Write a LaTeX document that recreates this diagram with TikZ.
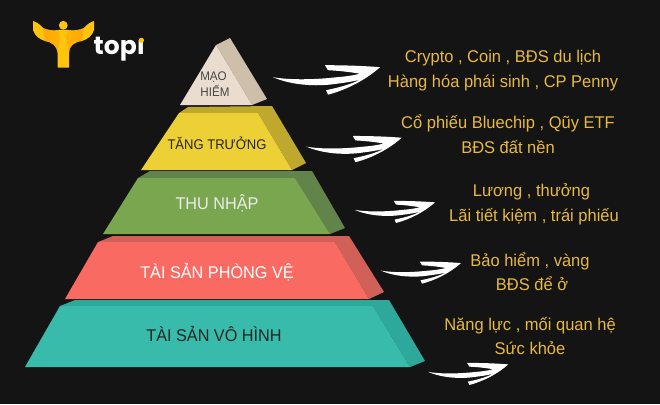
\documentclass[tikz,border=0pt]{standalone}
\usepackage{fontspec}
\setmainfont{Liberation Sans}
\newfontfamily\narrowfont[FakeStretch=0.97]{Liberation Sans}
\newfontfamily\pyrfont[FakeStretch=0.955]{Liberation Sans}
\newfontfamily\pyrnarrow[FakeStretch=0.93]{Liberation Sans}
\newfontfamily\logofont{Poppins}
\definecolor{bgc}{HTML}{141414}
\definecolor{gold}{HTML}{E8B941}
\definecolor{logoy}{RGB}{255,196,14}
\tikzset{
 x=1pt,y=-1pt,
 lab/.style={anchor=base,font=\narrowfont\fontsize{17}{20}\selectfont,text=gold,inner sep=0pt},
 ptext/.style={anchor=base,font=\pyrfont\fontsize{17}{20}\selectfont,inner sep=0pt},
 psmall/.style={anchor=base,font=\pyrnarrow\fontsize{12.5}{15}\selectfont,inner sep=0pt,text=black!72},
}
\newcommand{\brusharrow}[3]{% tip x, tip y, scale
 \fill[white,shift={(#1,#2)},scale=#3]
  (-107,10.5) .. controls (-90,18) and (-65,20.5) .. (-43,17)
  .. controls (-35,16) and (-28,15) .. (-20,13)
  .. controls (-30,18) and (-42,21) .. (-54,23.5)
  -- (-52,28) .. controls (-33,23) and (-14,13) .. (0,0.5)
  .. controls (-18,-1) and (-38,-1.5) .. (-55,-1.5)
  -- (-52,3.5) .. controls (-42,4) and (-32,5) .. (-20,7)
  .. controls (-28,9) and (-36,10) .. (-43,10.5)
  .. controls (-65,13) and (-90,13.5) .. (-107,10.5) -- cycle;
}
\begin{document}
\begin{tikzpicture}
\fill[bgc] (0,0) rectangle (660,404);
\useasboundingbox (0,0) rectangle (660,404);
% logo
\fill[logoy]
 (33,21) .. controls (36,22) and (40,24) .. (43,28)
 .. controls (47,30) and (53,31) .. (58.5,30) -- (68,30)
 .. controls (74,31) and (80,30) .. (84,28)
 .. controls (87,24) and (91,22) .. (94,21)
 -- (94,30) .. controls (92,36) and (88,39) .. (82,41)
 .. controls (74,42) and (69,46) .. (69,53)
 -- (69,67.7) -- (57.7,67.7) -- (57.7,53)
 .. controls (57,46) and (52,42) .. (45,41)
 .. controls (39,39) and (35,36) .. (33,30) -- cycle;
\fill[logoy] (63.3,25.3) circle (4.4);
\shade[left color=orange!85!yellow,right color=orange!70!yellow,opacity=.55]
 (43,28) .. controls (47,30) and (53,31) .. (58.5,30) -- (60,38) -- (57.7,53)
 .. controls (57,46) and (52,42) .. (45,41) -- cycle;
\shade[left color=orange!70!yellow,right color=orange!85!yellow,opacity=.55]
 (68,30) .. controls (74,31) and (80,30) .. (84,28) -- (82,41)
 .. controls (74,42) and (69,46) .. (69,53) -- (66,38) -- cycle;
\node[anchor=base west,inner sep=0pt,text=white,font=\logofont\bfseries\fontsize{25}{27}\selectfont] (logotext) at (93.5,55) {topı};
\fill[logoy] (141.4,40.3) circle (2.6);
% level 1
\fill[fill={rgb,255:red,205;green,191;blue,169}] (216,45) -- (230,38) -- (267,99) -- (252,105) -- cycle;
\fill[fill={rgb,255:red,234;green,221;blue,208}] (216,45) -- (252,105) -- (180,105) -- cycle;
% level 2
\fill[fill={rgb,255:red,190;green,168;blue,46}] (179,113) -- (188,107) -- (272,106) -- (306,163) -- (292,170) -- (258,113) -- cycle;
\fill[fill={rgb,255:red,236;green,208;blue,53}] (179,113) -- (258,113) -- (292,170) -- (141,170) -- cycle;
% level 3
\fill[fill={rgb,255:red,98;green,132;blue,74}] (138,178) -- (150,171) -- (312,171) -- (345,228) -- (330,234) -- (295,178) -- cycle;
\fill[fill={rgb,255:red,123;green,166;blue,80}] (138,178) -- (295,178) -- (330,234) -- (103,234) -- cycle;
% level 4
\fill[fill={rgb,255:red,208;green,96;blue,88}] (98,242) -- (113,236) -- (349,236) -- (384,292) -- (369,299) -- (335,242) -- cycle;
\fill[fill={rgb,255:red,249;green,106;blue,98}] (98,242) -- (335,242) -- (369,299) -- (65,299) -- cycle;
% level 5
\fill[fill={rgb,255:red,46;green,168;blue,154}] (60,306) -- (75,300) -- (389,300) -- (425,361) -- (410,367) -- (373,306) -- cycle;
\fill[fill={rgb,255:red,56;green,187;blue,171}] (60,306) -- (373,306) -- (410,367) -- (25,367) -- cycle;
% pyramid labels
\node[psmall] (l1a) at (213.5,80) {MẠO};
\node[psmall] (l1b) at (215,96.7) {HIẾM};
\node[ptext,text=black!85,font=\pyrnarrow\fontsize{14}{16}\selectfont] (l2) at (217,149) {TĂNG TRƯỞNG};
\node[ptext,text=white!92!black] (l3) at (217,209) {THU NHẬP};
\node[ptext,text=white] (l4) at (217,278.7) {TÀI SẢN PHÒNG VỆ};
\node[ptext,text=black!85] (l5) at (214,341) {TÀI SẢN VÔ HÌNH};
% arrows
\brusharrow{380}{66.7}{1}
\brusharrow{401.7}{137.3}{0.89}
\brusharrow{435}{202}{0.75}
\brusharrow{461}{262.7}{0.75}
\brusharrow{508.3}{364}{0.75}
% right labels
\node[lab] (a1) at (503,62) {Crypto , Coin , BĐS du lịch};
\node[lab] (a2) at (503,87) {Hàng hóa phái sinh , CP Penny};
\node[lab] (b1) at (508,128.5) {Cổ phiếu Bluechip , Qũy ETF};
\node[lab] (b2) at (508,153) {BĐS đất nền};
\node[lab] (c1) at (531.5,196.7) {Lương , thưởng};
\node[lab] (c2) at (534,221.7) {Lãi tiết kiệm , trái phiếu};
\node[lab] (d1) at (530,266.5) {Bảo hiểm , vàng};
\node[lab] (d2) at (532,290.7) {BĐS để ở};
\node[lab] (e1) at (530,330) {Năng lực , mối quan hệ};
\node[lab] (e2) at (530,354) {Sức khỏe};
\end{tikzpicture}
\end{document}
